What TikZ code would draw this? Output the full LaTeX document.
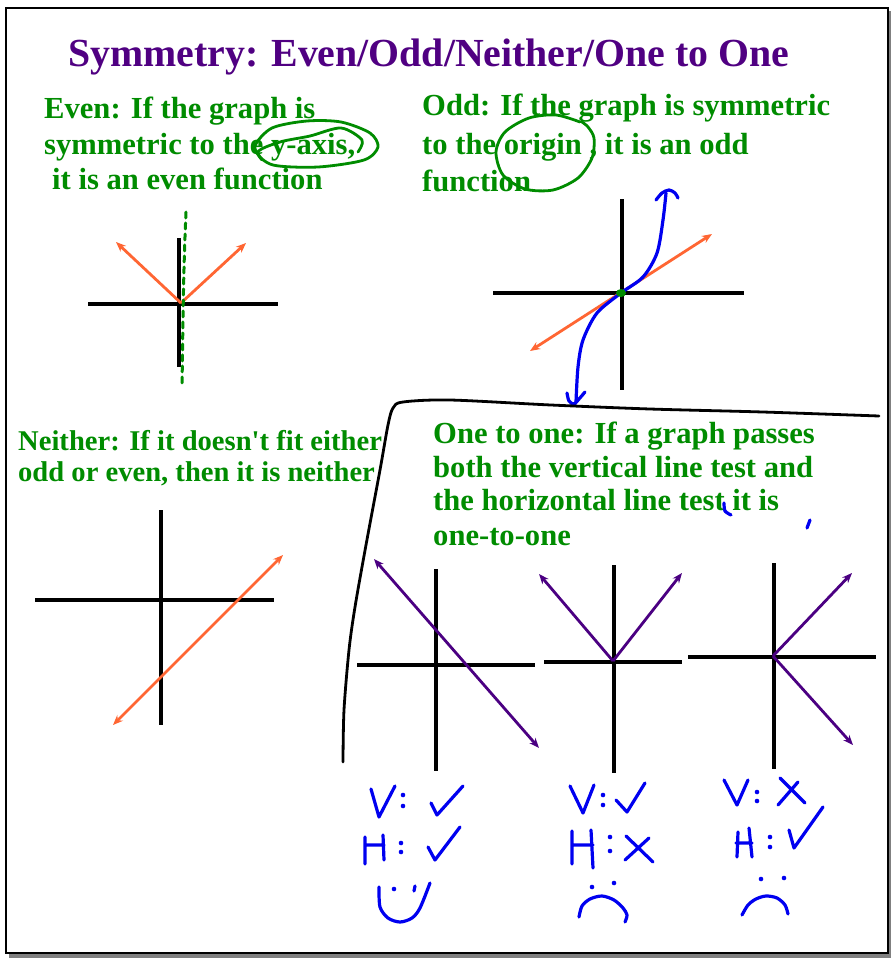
\documentclass[tikz,border=0pt]{standalone}
\usepackage{fontspec}
\setmainfont{Liberation Serif}
\usetikzlibrary{arrows.meta}

\definecolor{titlepurple}{RGB}{80,0,130}
\definecolor{txtgreen}{RGB}{0,140,0}
\definecolor{fnorange}{RGB}{255,102,51}
\definecolor{fnpurple}{RGB}{75,0,130}
\definecolor{inkblue}{RGB}{0,0,240}

\begin{document}
\begin{tikzpicture}[x=1pt,y=-1pt,
  axis/.style={line width=3.2pt},
  orangefn/.style={draw=fnorange,line width=2.8pt},
  purplefn/.style={draw=fnpurple,line width=2.8pt},
  tip/.style={-{Stealth[length=10pt,width=8pt]}},
  dbltip/.style={{Stealth[length=10pt,width=8pt]}-{Stealth[length=10pt,width=8pt]}},
  pen/.style={draw=inkblue,line width=3.2pt,line cap=round,line join=round},
  greenpen/.style={draw=txtgreen,line width=2.8pt,line cap=round,line join=round},
  txt/.style={anchor=base west,inner sep=0pt,text=txtgreen,font=\fontsize{30.6}{36}\selectfont\bfseries}]
\useasboundingbox (0,0) rectangle (892,959);
% frame with shadow
\fill[black!50] (9,11) rectangle (891,958);
\draw[line width=2pt,fill=white] (6,8) rectangle (888,953);

% texts
\node[txt,text=titlepurple,font=\fontsize{39.8}{44}\selectfont\bfseries] (title) at (68,66) {Symmetry: Even/Odd/Neither/One to One};
\node[txt] (even1) at (44,118) {Even: If the graph is};
\node[txt] (even2) at (44,154) {symmetric to the y-axis,};
\node[txt] (even3) at (52,189) {it is an even function};
\node[txt] (odd1) at (422,115) {Odd: If the graph is symmetric};
\node[txt] (odd2) at (422,154) {to the origin , it is an odd};
\node[txt] (odd3) at (422,191) {function};
\node[txt,font=\fontsize{28.6}{32}\selectfont\bfseries] (neither1) at (18,450) {Neither: If it doesn\textquotesingle t fit either};
\node[txt,font=\fontsize{28.6}{32}\selectfont\bfseries] (neither2) at (18,481) {odd or even, then it is neither};
\node[txt] (one1) at (433,443) {One to one: If a graph passes};
\node[txt] (one2) at (433,477) {both the vertical line test and};
\node[txt] (one3) at (433,510) {the horizontal line test it is};
\node[txt] (one4) at (433,545) {one-to-one};

% even graph
\coordinate (evenO) at (181,303);
\draw[axis] (88,304) -- (278,304);
\draw[axis] (179,238) -- (179,367);
\draw[orangefn,tip] (evenO) -- (116,242);
\draw[orangefn,tip] (evenO) -- (246,243);
\draw[txtgreen,line width=3pt,dash pattern=on 6pt off 5pt,line cap=round] (186,212) .. controls (183,280) and (183,330) .. (182,385);

% odd graph
\coordinate (oddO) at (621,293);
\draw[axis] (493,293) -- (744,293);
\draw[axis] (622,199) -- (622,390);
\draw[orangefn,dbltip] (530,351) -- (712,234);
\draw[pen] plot[smooth] coordinates {(576,402) (578,367) (583,340) (597,313) (oddO) (643,277) (657,253) (663,220) (666,193)};
\draw[pen] plot[smooth] coordinates {(656,200) (662,193) (669,190) (675,193) (678,198)};
\draw[pen] plot[smooth] coordinates {(567,393) (569,401) (574,404) (579,399) (585,392)};
\fill[txtgreen] (oddO) ellipse (5 and 4);

% neither graph
\draw[axis] (35,600) -- (274,600);
\draw[axis] (161,510) -- (161,725);
\draw[orangefn,dbltip] (113,725) -- (283,555);

% one to one graphs
\draw[axis] (357,665) -- (535,665);
\draw[axis] (436,569) -- (436,771);
\draw[purplefn,dbltip] (374,559) -- (539,748);
\coordinate (vO) at (613,661);
\draw[axis] (544,662) -- (682,662);
\draw[axis] (614,565) -- (614,773);
\draw[purplefn,tip] (vO) -- (539,574);
\draw[purplefn,tip] (vO) -- (682,573);
\coordinate (kO) at (773,656);
\draw[axis] (688,657) -- (876,657);
\draw[axis] (774,563) -- (774,769);
\draw[purplefn,tip] (kO) -- (852,573);
\draw[purplefn,tip] (kO) -- (853,745);

% boundary around one to one
\draw[line width=2.8pt,line cap=round] plot[smooth] coordinates {(343,762) (344,710) (349,650) (355,607) (366,545) (380,470) (388,425) (393,408) (403,402) (450,400) (551,405) (650,409) (763,412) (879,416)};

% green circles
\draw[greenpen] plot[smooth] coordinates {(262,160) (255,146) (272,128) (307,121) (341,122) (370,133) (378,147) (364,160) (318,167) (273,165) (258,152) (280,142) (310,136) (341,128) (362,140) (358,152)};
\draw[greenpen] plot[smooth] coordinates {(580,122) (556,115) (529,118) (505,132) (496,152) (503,175) (525,189) (553,190) (578,178) (592,158) (594,138) (588,127) (582,122)};

% blue ink marks
\draw[pen] plot[smooth] coordinates {(724,503) (725,511) (731,515)};
\draw[pen] (810,520) -- (807,528);

% handwriting: V H smiley
\foreach \x/\y in {403/795,403/806,401/843,401/852,603/795,603/805,610/837,610/851,757/792,757/801,770/837,770/847,394/889,592/887,614/883,761/879,784/878}
  \fill[inkblue] (\x,\y) circle (2.3);
\draw[pen] (371,789) -- (379,817) -- (395,786);
\draw[pen] (431,803) -- (437,815) -- (463,786);
\draw[pen] (365,837) -- (365,864) (365,845) -- (384,845) (383,835) -- (384,860);
\draw[pen] (428,847) -- (435,860) -- (460,827);
\draw[pen] (415,886) -- (414,891);
\draw[pen] plot[smooth] coordinates {(379,887) (380,907) (388,918) (400,922) (412,918) (420,908) (430,883)};

\draw[pen] (570,786) -- (583,813) -- (594,785);
\draw[pen] (616,800) -- (627,812) -- (645,783);
\draw[pen] (572,831) -- (572,864) (572,845) -- (593,845) (591,830) -- (593,868);
\draw[pen] (626,836) -- (653,862) (649,838) -- (625,860);
\draw[pen] plot[smooth] coordinates {(579,917) (582,906) (590,899) (602,896) (614,900) (623,908) (627,915) (625,922)};

\draw[pen] (724,780) -- (737,805) -- (748,780);
\draw[pen] (780,778) -- (805,803) (798,782) -- (778,805);
\draw[pen] (738,832) -- (737,857) (736,843) -- (752,843) (749,828) -- (752,857);
\draw[pen] (789,830) -- (794,848) -- (823,807);
\draw[pen] plot[smooth] coordinates {(742,915) (748,905) (756,899) (766,896) (777,898) (785,905) (788,914)};
\end{tikzpicture}
\end{document}
